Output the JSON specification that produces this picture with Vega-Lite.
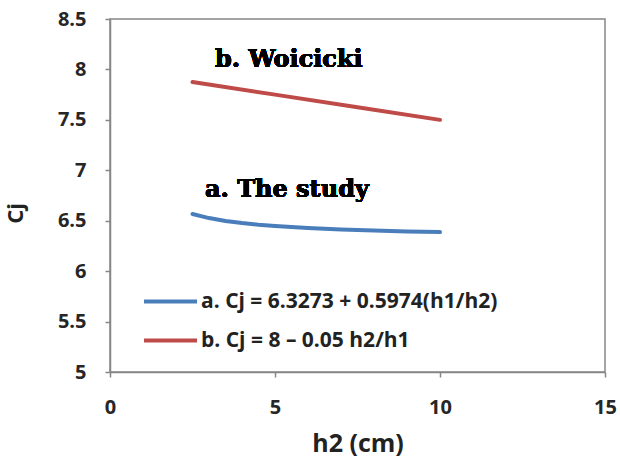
{
  "$schema": "https://vega.github.io/schema/vega-lite/v6.json",
  "autosize": "none",
  "width": 495,
  "height": 353,
  "padding": {"left": 110, "top": 19, "right": 15, "bottom": 91},
  "background": "white",
  "config": {
    "view": {"stroke": "#868686", "strokeWidth": 1.5},
    "axis": {
      "grid": false,
      "labelFlush": false,
      "domainColor": "#868686",
      "domainWidth": 1.5,
      "tickColor": "#868686",
      "tickWidth": 1.5,
      "tickSize": 5,
      "labelFont": "Open Sans",
      "labelFontWeight": "bold",
      "labelFontSize": 20,
      "labelColor": "#262626",
      "titleFont": "Open Sans",
      "titleFontWeight": "bold",
      "titleColor": "#222222"
    }
  },
  "data": {
    "values": [
      {"h2": 2.5, "Cj": 6.566, "series": "a. Cj = 6.3273 + 0.5974(h1/h2)"},
      {"h2": 3, "Cj": 6.526, "series": "a. Cj = 6.3273 + 0.5974(h1/h2)"},
      {"h2": 3.5, "Cj": 6.498, "series": "a. Cj = 6.3273 + 0.5974(h1/h2)"},
      {"h2": 4, "Cj": 6.477, "series": "a. Cj = 6.3273 + 0.5974(h1/h2)"},
      {"h2": 4.5, "Cj": 6.460, "series": "a. Cj = 6.3273 + 0.5974(h1/h2)"},
      {"h2": 5, "Cj": 6.447, "series": "a. Cj = 6.3273 + 0.5974(h1/h2)"},
      {"h2": 6, "Cj": 6.427, "series": "a. Cj = 6.3273 + 0.5974(h1/h2)"},
      {"h2": 7, "Cj": 6.413, "series": "a. Cj = 6.3273 + 0.5974(h1/h2)"},
      {"h2": 8, "Cj": 6.402, "series": "a. Cj = 6.3273 + 0.5974(h1/h2)"},
      {"h2": 9, "Cj": 6.394, "series": "a. Cj = 6.3273 + 0.5974(h1/h2)"},
      {"h2": 10, "Cj": 6.387, "series": "a. Cj = 6.3273 + 0.5974(h1/h2)"},
      {"h2": 2.5, "Cj": 7.875, "series": "b. Cj = 8 – 0.05 h2/h1"},
      {"h2": 5, "Cj": 7.75, "series": "b. Cj = 8 – 0.05 h2/h1"},
      {"h2": 7.5, "Cj": 7.625, "series": "b. Cj = 8 – 0.05 h2/h1"},
      {"h2": 10, "Cj": 7.5, "series": "b. Cj = 8 – 0.05 h2/h1"}
    ]
  },
  "layer": [
    {
      "mark": {"type": "line", "strokeWidth": 4, "strokeCap": "round"},
      "encoding": {
        "x": {
          "field": "h2", "type": "quantitative",
          "scale": {"domain": [0, 15], "nice": false},
          "axis": {"values": [0, 5, 10, 15], "title": "h2 (cm)", "titleFontSize": 25, "labelPadding": 20, "titleY": 71, "titleBaseline": "middle"}
        },
        "y": {
          "field": "Cj", "type": "quantitative",
          "scale": {"domain": [5, 8.5], "nice": false, "zero": false},
          "axis": {"values": [5, 5.5, 6, 6.5, 7, 7.5, 8, 8.5], "format": "~g", "title": "Cj", "titleFontSize": 22, "labelPadding": 19, "titleX": -95, "titleY": 194, "titleAngle": -90, "titleAlign": "center", "titleBaseline": "middle"}
        },
        "color": {
          "field": "series", "type": "nominal",
          "scale": {"range": ["#4a7ebb", "#be4b48"]},
          "legend": {
            "title": null,
            "orient": "none",
            "legendX": 32,
            "legendY": 254,
            "symbolType": "stroke",
            "symbolSize": 2809,
            "symbolStrokeWidth": 4,
            "labelFont": "Open Sans",
            "labelFontWeight": "bold",
            "labelFontSize": 21,
            "labelColor": "#222222",
            "labelLimit": 500,
            "labelOffset": 2,
            "rowPadding": -2
          }
        }
      }
    },
    {
      "mark": {"type": "text", "text": "b. Woicicki", "font": "DejaVu Serif", "fontWeight": "bold", "fontSize": 24, "color": "black"},
      "encoding": {"x": {"datum": 5.42}, "y": {"datum": 8.09}}
    },
    {
      "mark": {"type": "text", "text": "a. The study", "font": "DejaVu Serif", "fontWeight": "bold", "fontSize": 24, "color": "black"},
      "encoding": {"x": {"datum": 5.36}, "y": {"datum": 6.8}}
    }
  ]
}
